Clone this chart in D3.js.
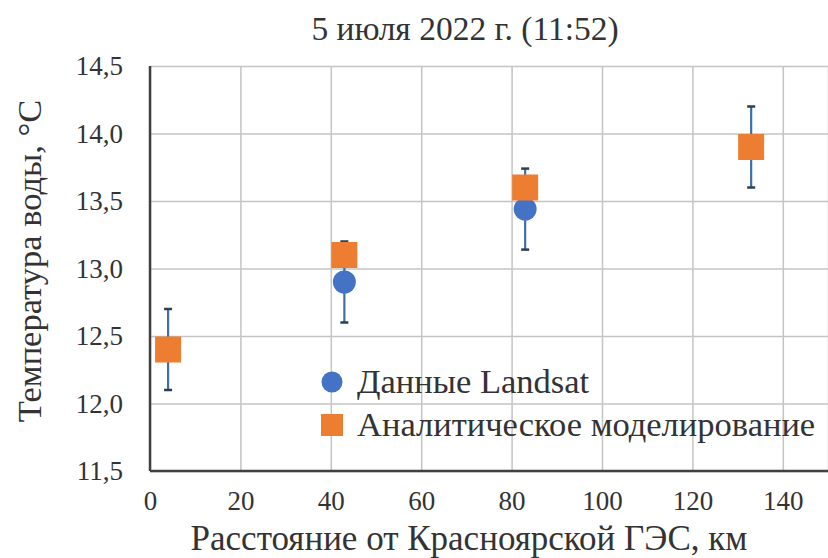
<!DOCTYPE html>
<html>
<head>
<meta charset="utf-8">
<script src="https://cdn.jsdelivr.net/npm/d3@7"></script>
<style>
  body { margin: 0; background: #fff; }
  text { font-family: "Liberation Serif", "Times New Roman", serif; fill: #333; }
  .grid line { stroke: #c4c4c4; stroke-width: 1.5; }
  .grid path { display: none; }
</style>
</head>
<body>
<div id="chart"></div>
<script>

// distance from Krasnoyarsk dam, km
let distances = [4, 43, 83, 133];
// Landsat water temperature and its error
let landsatTemp = [12.4, 12.9, 13.44, 13.9];
let landsatErr = [0.3, 0.3, 0.3, 0.3];
// analytical model
let modelTemp = [12.4, 13.1, 13.6, 13.9];

let xTicks = [0, 20, 40, 60, 80, 100, 120, 140];
let yTicks = [11.5, 12.0, 12.5, 13.0, 13.5, 14.0, 14.5];

let seriesNames = ["Данные Landsat", "Аналитическое моделирование"];
let chartTitle = "5 июля 2022 г. (11:52)";
let xTitle = "Расстояние от Красноярской ГЭС, км";
let yTitle = "Температура воды, °C";

const SERIF = '"Liberation Serif", "Times New Roman", serif';


class ScatterChart {

  constructor(parentElement) {
    this.parentElement = parentElement;
    this.initVis();
  }

  initVis() {
    let vis = this;

    vis.margin = { top: 66, right: 0, bottom: 87, left: 150 };
    vis.width = 828 - vis.margin.left - vis.margin.right;
    vis.height = 558 - vis.margin.top - vis.margin.bottom;

    vis.root = d3.select("#" + vis.parentElement)
      .append("svg")
      .attr("width", 828)
      .attr("height", 558);

    vis.svg = vis.root.append("g")
      .attr("transform", "translate(" + vis.margin.left + "," + vis.margin.top + ")");

    vis.x = d3.scaleLinear().domain([0, 150]).range([0, vis.width]);
    vis.y = d3.scaleLinear().domain([11.5, 14.5]).range([vis.height, 0]);

    // grid lines
    vis.svg.append("g")
      .attr("class", "grid")
      .call(d3.axisBottom(vis.x).tickValues(xTicks.concat([150])).tickSize(vis.height).tickFormat(""));
    vis.svg.append("g")
      .attr("class", "grid")
      .call(d3.axisLeft(vis.y).tickValues(yTicks).tickSize(-vis.width).tickFormat(""));

    // axis lines
    vis.svg.append("line")
      .attr("x1", 0).attr("x2", 0)
      .attr("y1", 0).attr("y2", vis.height)
      .attr("stroke", "#404040").attr("stroke-width", 2.5);
    vis.svg.append("line")
      .attr("x1", 0).attr("x2", vis.width)
      .attr("y1", vis.height).attr("y2", vis.height)
      .attr("stroke", "#404040").attr("stroke-width", 2.5);

    // tick labels
    let xAxis = vis.svg.append("g")
      .attr("transform", "translate(0," + vis.height + ")")
      .call(d3.axisBottom(vis.x).tickValues(xTicks).tickSize(0).tickPadding(20));
    xAxis.select(".domain").remove();
    xAxis.selectAll("text")
      .style("font-family", SERIF)
      .style("font-size", "27px")
      .style("fill", "#333");

    let yAxis = vis.svg.append("g")
      .call(d3.axisLeft(vis.y).tickValues(yTicks).tickSize(0).tickPadding(27)
        .tickFormat(d => d3.format(".1f")(d).replace(".", ",")));
    yAxis.select(".domain").remove();
    yAxis.selectAll("text")
      .style("font-family", SERIF)
      .style("font-size", "27px")
      .style("fill", "#333");

    // titles
    vis.root.append("text")
      .attr("x", 465).attr("y", 40)
      .attr("text-anchor", "middle")
      .style("font-size", "33.5px")
      .text(chartTitle);
    vis.root.append("text")
      .attr("x", 469).attr("y", 550)
      .attr("text-anchor", "middle")
      .style("font-size", "35px")
      .text(xTitle);
    vis.root.append("text")
      .attr("transform", "translate(41,261) rotate(-90)")
      .attr("text-anchor", "middle")
      .style("font-size", "34.5px")
      .text(yTitle);

    vis.wrangleData();
  }

  wrangleData() {
    let vis = this;

    vis.landsat = distances.map((d, i) => ({ x: d, y: landsatTemp[i], err: landsatErr[i] }));
    vis.model = distances.map((d, i) => ({ x: d, y: modelTemp[i] }));

    vis.updateVis();
  }

  updateVis() {
    let vis = this;

    // error bars (Landsat)
    let bars = vis.svg.selectAll(".err")
      .data(vis.landsat)
      .enter()
      .append("g")
      .attr("class", "err");
    bars.append("line")
      .attr("x1", d => vis.x(d.x)).attr("x2", d => vis.x(d.x))
      .attr("y1", d => vis.y(d.y - d.err)).attr("y2", d => vis.y(d.y + d.err))
      .attr("stroke", "#3d6fa8").attr("stroke-width", 2.2);
    [-1, 1].forEach(s => {
      bars.append("line")
        .attr("x1", d => vis.x(d.x) - 4).attr("x2", d => vis.x(d.x) + 4)
        .attr("y1", d => vis.y(d.y + s * d.err)).attr("y2", d => vis.y(d.y + s * d.err))
        .attr("stroke", "#2b3f55").attr("stroke-width", 2.5);
    });

    // Landsat circles
    vis.svg.selectAll(".dot")
      .data(vis.landsat)
      .enter()
      .append("circle")
      .attr("class", "dot")
      .attr("cx", d => vis.x(d.x))
      .attr("cy", d => vis.y(d.y))
      .attr("r", 11.5)
      .attr("fill", "#4472c4");

    // model squares
    vis.svg.selectAll(".sq")
      .data(vis.model)
      .enter()
      .append("rect")
      .attr("class", "sq")
      .attr("x", d => vis.x(d.x) - 13)
      .attr("y", d => vis.y(d.y) - 13)
      .attr("width", 26)
      .attr("height", 26)
      .attr("fill", "#ed7d31");

    // legend
    let legend = vis.root.append("g")
      .attr("transform", "translate(332,382)");
    legend.append("circle")
      .attr("r", 10.5)
      .attr("fill", "#4472c4");
    legend.append("rect")
      .attr("x", -11).attr("y", 32)
      .attr("width", 22).attr("height", 22)
      .attr("fill", "#ed7d31");
    legend.selectAll(".leg-text")
      .data(seriesNames)
      .enter()
      .append("text")
      .attr("class", "leg-text")
      .attr("x", 25)
      .attr("y", (d, i) => 11 + i * 43)
      .style("font-size", "34.5px")
      .text(d => d);
  }
}

new ScatterChart("chart");
</script>
</body>
</html>
